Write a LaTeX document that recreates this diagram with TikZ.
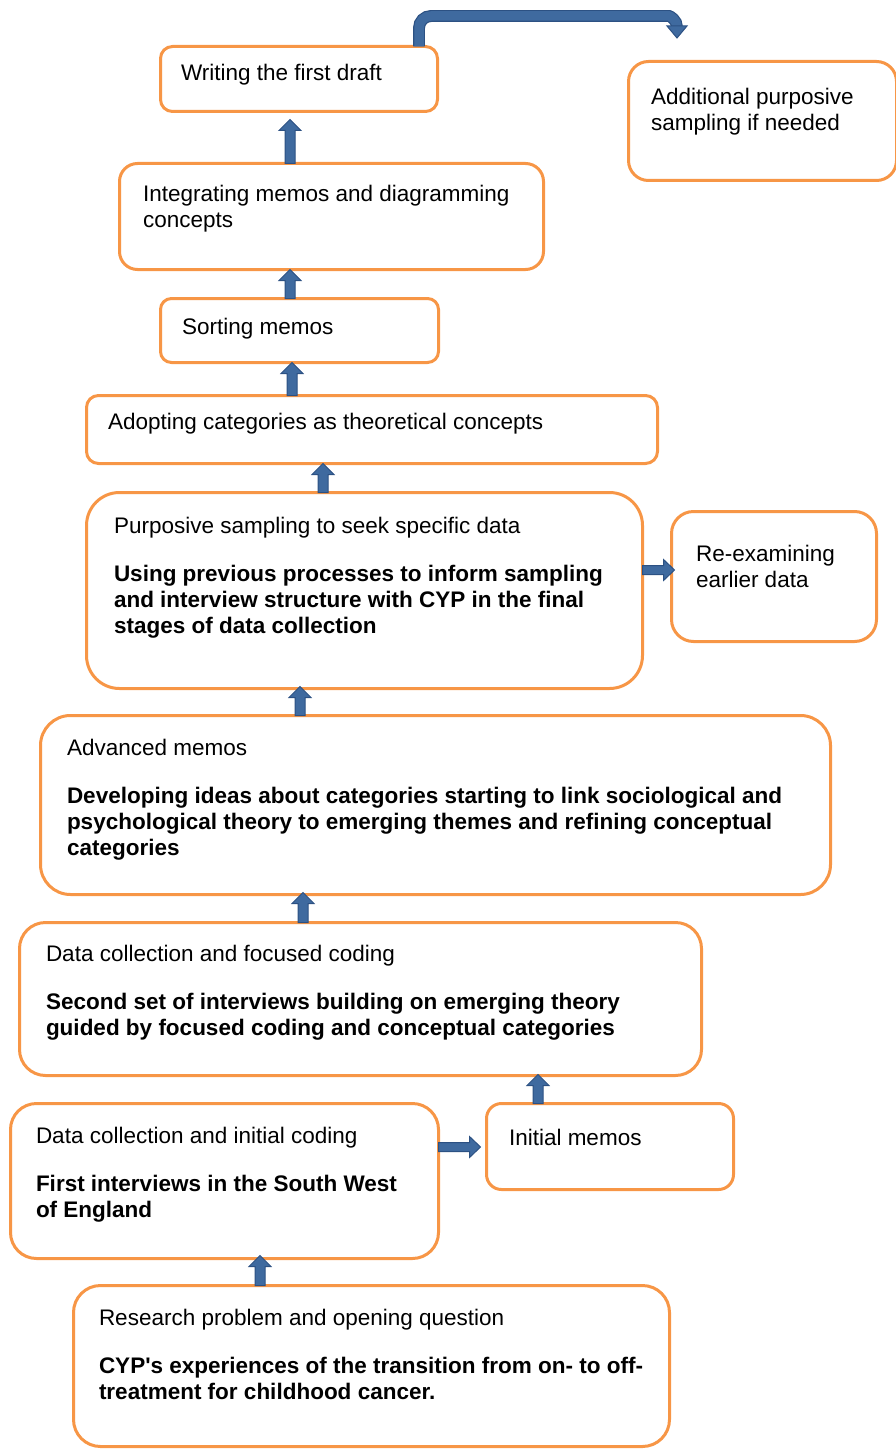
\documentclass[tikz,border=0pt]{standalone}
\usepackage{fontspec}
\setmainfont{Liberation Sans}[Ligatures=TeXOff]
\usetikzlibrary{calc}

\definecolor{boxorange}{HTML}{F79646}
\definecolor{arrowblue}{HTML}{3F6A9F}
\definecolor{arrowedge}{HTML}{2C5183}

% text block whose baseline is that of its first line
\newcommand\blk[1]{\parbox[t]{800pt}{\raggedright #1}}

% upward block arrow: x position, lower node, upper node, tip offset
\newcommand\vup[4]{%
  \draw[barrow] let \p0=(#1,0), \p1=(#2.north), \p2=($(#3.south)+(0,#4)$) in
    (\x0-5pt,\y1) -- (\x0-5pt,\y2-11pt) -- (\x0-11pt,\y2-11pt) -- (\x0,\y2)
    -- (\x0+11pt,\y2-11pt) -- (\x0+5pt,\y2-11pt) -- (\x0+5pt,\y1) -- cycle;}

% rightward block arrow: y position, left node, right node, tip offset
\newcommand\hright[4]{%
  \draw[barrow] let \p0=(0,#1), \p1=(#2.east), \p2=($(#3.west)+(#4,0)$) in
    (\x1,\y0+4.5pt) -- (\x2-11pt,\y0+4.5pt) -- (\x2-11pt,\y0+10.5pt) -- (\x2,\y0)
    -- (\x2-11pt,\y0-10.5pt) -- (\x2-11pt,\y0-4.5pt) -- (\x1,\y0-4.5pt) -- cycle;}

\tikzset{
  box/.style={draw=boxorange, line width=3pt, fill=white, inner sep=0pt, outer sep=0pt},
  txt/.style={anchor=base west, inner sep=0pt, outer sep=0pt,
    font=\fontsize{22.5}{26}\selectfont, text=black},
  barrow/.style={fill=arrowblue, draw=arrowedge, line width=1pt, line join=miter},
  bendarrow/.style={draw=arrowedge, line width=1.2pt, double=arrowblue,
    double distance=9.5pt, rounded corners=12pt}
}

\begin{document}
\begin{tikzpicture}[x=1pt, y=-1pt]
\useasboundingbox (0,0) rectangle (896,1450);

% ---- boxes ----
\node[box, minimum width=277pt, minimum height=65pt, rounded corners=12pt] (draft) at (299,79) {};
\node[box, minimum width=268pt, minimum height=119pt, rounded corners=20pt] (extra) at (762.5,121) {};
\node[box, minimum width=424pt, minimum height=106pt, rounded corners=18pt] (integ) at (331.5,216.5) {};
\node[box, minimum width=278pt, minimum height=64pt, rounded corners=11pt] (sort) at (299.5,330.5) {};
\node[box, minimum width=571pt, minimum height=68pt, rounded corners=12pt] (adopt) at (372,429.5) {};
\node[box, minimum width=556pt, minimum height=196pt, rounded corners=33pt] (purp) at (364.5,590.5) {};
\node[box, minimum width=205pt, minimum height=130pt, rounded corners=22pt] (reexam) at (774,576.5) {};
\node[box, minimum width=790pt, minimum height=179pt, rounded corners=30pt] (adv) at (435.5,805) {};
\node[box, minimum width=682pt, minimum height=153pt, rounded corners=26pt] (focus) at (360.5,999) {};
\node[box, minimum width=428pt, minimum height=155pt, rounded corners=26pt] (initc) at (224.5,1181) {};
\node[box, minimum width=247pt, minimum height=86pt, rounded corners=15pt] (initm) at (610,1146.5) {};
\node[box, minimum width=596pt, minimum height=161pt, rounded corners=27pt] (resp) at (371.5,1366) {};

% ---- texts ----
\node[txt] (tdraft) at (181,81) {\blk{Writing the first draft}};
\node[txt] (textra) at (651,105) {\blk{Additional purposive\\sampling if needed}};
\node[txt] (tinteg) at (143,201) {\blk{Integrating memos and diagramming\\concepts}};
\node[txt] (tsort) at (182,334) {\blk{Sorting memos}};
\node[txt] (tadopt) at (108,429) {\blk{Adopting categories as theoretical concepts}};
\node[txt] (tpurp) at (114,533) {\blk{Purposive sampling to seek specific data\\[22pt]
  \textbf{Using previous processes to inform sampling\\and interview structure with CYP in the final\\stages of data collection}}};
\node[txt] (treexam) at (696,561) {\blk{Re-examining\\earlier data}};
\node[txt] (tadv) at (67,755) {\blk{Advanced memos\\[22pt]
  \textbf{Developing ideas about categories starting to link sociological and\\psychological theory to emerging themes and refining conceptual\\categories}}};
\node[txt] (tfocus) at (46,961) {\blk{Data collection and focused coding\\[22pt]
  \textbf{Second set of interviews building on emerging theory\\guided by focused coding and conceptual categories}}};
\node[txt] (tinitc) at (36,1143) {\blk{Data collection and initial coding\\[22pt]
  \textbf{First interviews in the South West\\of England}}};
\node[txt] (tinitm) at (509,1145) {\blk{Initial memos}};
\node[txt] (tresp) at (99,1325) {\blk{Research problem and opening question\\[22pt]
  \textbf{CYP's experiences of the transition from on- to off-\\treatment for childhood cancer.}}};

% ---- upward flow ----
\vup{290}{integ}{draft}{8}
\vup{290}{sort}{integ}{0}
\vup{292}{adopt}{sort}{0}
\vup{323}{purp}{adopt}{0}
\vup{300}{adv}{purp}{-2}
\vup{303}{focus}{adv}{-2}
\vup{538}{initm}{focus}{-1}
\vup{260}{resp}{initc}{-3}

% ---- side arrows ----
\hright{570}{purp}{reexam}{3}
\hright{1147}{initc}{initm}{-6}

% ---- bent arrow from the draft to additional sampling ----
\coordinate (bx) at (419,0);
\coordinate (bcorner) at (657,16);
\coordinate (bend) at (677,27);
\draw[bendarrow] (draft.north -| bx) |- (bcorner) .. controls (670,16) and (677,20) .. (bend);
\draw[barrow] let \p1=(bend) in
  (\x1-10pt,\y1+1pt) -- (\x1+10pt,\y1+1pt) -- (\x1,\y1-11pt) -- cycle;
\end{tikzpicture}
\end{document}
